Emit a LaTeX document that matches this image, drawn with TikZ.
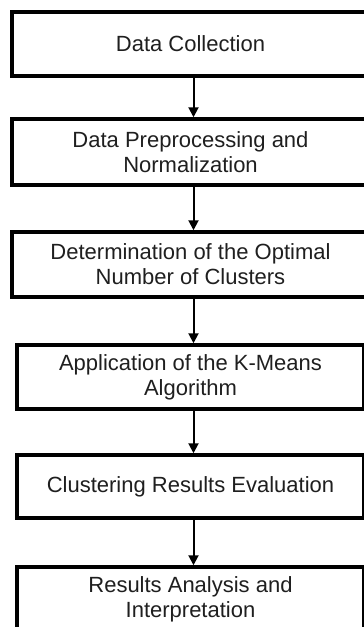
\documentclass[tikz,border=0pt]{standalone}
\usepackage{fontspec}
\setmainfont{Liberation Sans}
\usetikzlibrary{arrows.meta}
\begin{document}
\begin{tikzpicture}[x=1pt,y=-1pt,
  stepbox/.style={draw=black, line width=3.5pt, fill=white, align=center,
    minimum height=64pt, inner sep=0pt, text=black!88,
    font=\fontsize{22}{25}\selectfont},
  widebox/.style={stepbox, minimum width=357pt},
  narrowbox/.style={stepbox, minimum width=347pt},
  flow/.style={line width=2pt, -{Triangle[width=10pt,length=10pt]}}]
\useasboundingbox (0,0) rectangle (364,627);
\clip (0,0) rectangle (364,627);
\node[widebox] (b1) at (190.5,44) {Data Collection};
\node[widebox, minimum height=66pt] (b2) at (190.5,152) {Data Preprocessing and\\Normalization};
\node[widebox, minimum height=65pt] (b3) at (190.5,264.5) {Determination of the Optimal\\Number of Clusters};
\node[narrowbox] (b4) at (190.5,377) {Application of the K-Means\\Algorithm};
\node[narrowbox, minimum height=63pt] (b5) at (190.5,486.5) {Clustering Results Evaluation};
\node[narrowbox] (b6) at (190.5,599) {Results Analysis and\\Interpretation};
\draw[flow] ([xshift=3pt]b1.south) -- ([xshift=3pt]b2.north);
\draw[flow] ([xshift=3pt]b2.south) -- ([xshift=3pt]b3.north);
\draw[flow] ([xshift=3pt]b3.south) -- ([xshift=3pt]b4.north);
\draw[flow] ([xshift=3pt]b4.south) -- ([xshift=3pt]b5.north);
\draw[flow] ([xshift=3pt]b5.south) -- ([xshift=3pt]b6.north);
\end{tikzpicture}
\end{document}
